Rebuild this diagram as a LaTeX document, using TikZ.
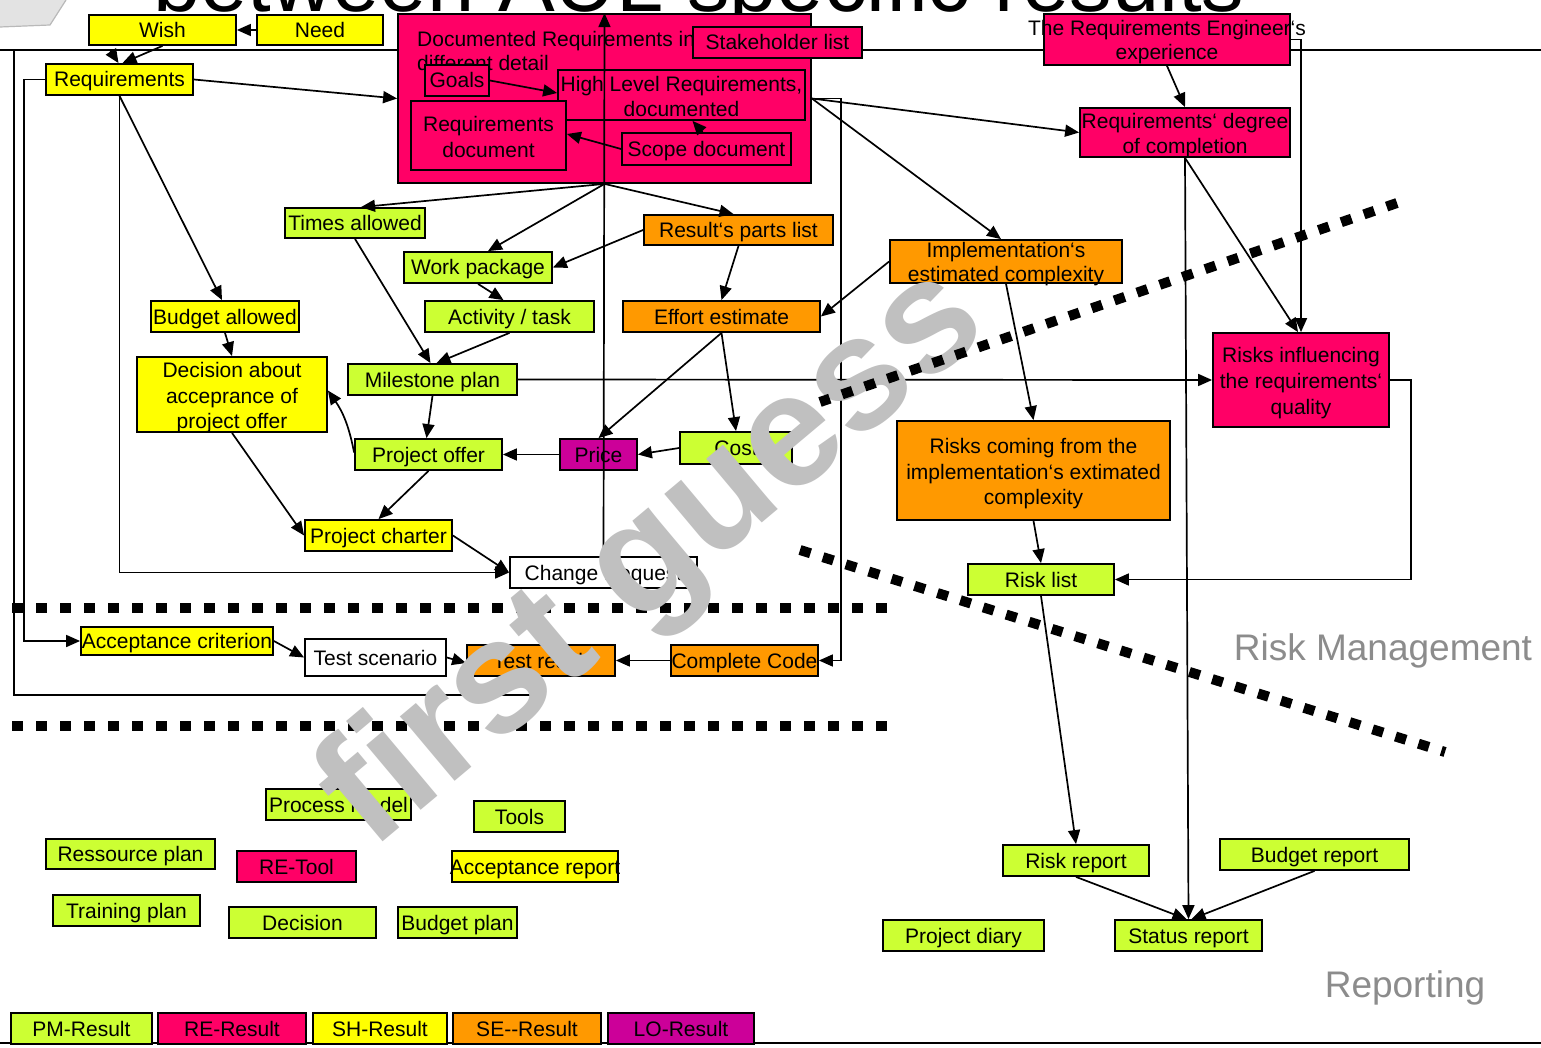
\documentclass[tikz,border=0pt]{standalone}
\usepackage{fontspec}
\setmainfont{Liberation Sans}
\usetikzlibrary{arrows.meta}
\definecolor{yel}{HTML}{FFFF00}
\definecolor{pnk}{HTML}{FF0066}
\definecolor{grn}{HTML}{CCFF33}
\definecolor{org}{HTML}{FF9900}
\definecolor{mag}{HTML}{CC0099}
\definecolor{wmc}{HTML}{C0C0C0}
\definecolor{lblgray}{HTML}{8C8C8C}
\newcommand\labfont{\fontsize{21}{25.5}\selectfont}
\begin{document}
\begin{tikzpicture}[x=1pt,y=-1pt,
  box/.style={draw=black, line width=1.8pt, inner sep=0pt, align=center, font=\labfont, text height=15.3pt, text depth=0.3pt},
  arr/.style={-{Triangle[length=14pt,width=12pt]}, line width=1.7pt},
  dots/.style={line width=10pt, dash pattern=on 11pt off 13pt},
  plain/.style={line width=1.6pt}]
\useasboundingbox (0,0) rectangle (1541,1048);
\clip (0,0) rectangle (1541,1048);
\fill[white] (0,0) rectangle (1541,1048);

% decoration top-left and title
\fill[gray!22] (0,0) -- (66,0) -- (50,25) -- (0,27) -- cycle;
\draw[gray!55, line width=1.2pt] (0,27) -- (50,25) -- (66,0);
\node[anchor=base west, inner sep=0pt, font=\fontsize{85}{85}\selectfont] (title) at (153,12) {between AUL specific results};

% rule lines
\draw[plain] (0,50) -- (1541,50);
\draw[line width=1.8pt] (0,1043) -- (1541,1043);

% boxes
\node[box,fill=yel,minimum width=147pt,minimum height=30pt] (wish) at (162.5,30) {Wish};
\node[box,fill=yel,minimum width=126pt,minimum height=30pt] (need) at (320,30) {Need};
\node[box,fill=yel,minimum width=147pt,minimum height=31pt] (req) at (119.5,79.5) {Requirements};
\node[box,fill=pnk,minimum width=413pt,minimum height=169pt] (docbox) at (604.5,98.5) {};
\node[anchor=base west, align=left, inner sep=0pt, font=\fontsize{21}{24}\selectfont] (doctext) at (417,70.5) {Documented Requirements in\\different detail};
\node[box,fill=pnk,minimum width=169pt,minimum height=31pt] (stake) at (777.5,42.5) {Stakeholder list};
\node[box,fill=pnk,minimum width=64pt,minimum height=31pt] (goals) at (457,80.5) {Goals};
\node[box,fill=pnk,minimum width=247pt,minimum height=50pt,font=\fontsize{21}{25}\selectfont,text height=43.3pt] (hlr) at (681.5,95) {High Level Requirements,\\documented};
\node[box,fill=pnk,minimum width=155pt,minimum height=69pt,font=\fontsize{21}{26}\selectfont,text height=44.3pt] (reqdoc) at (488.5,135.5) {Requirements\\document};
\node[box,fill=pnk,minimum width=169pt,minimum height=32pt] (scope) at (706.5,149) {Scope document};
\node[box,fill=pnk,minimum width=246pt,minimum height=51pt] (reeng) at (1167,39.5) {};
\node[align=center, inner sep=0pt, text height=39.3pt, text depth=0.3pt, font=\fontsize{21}{24}\selectfont] (reengtext) at (1167,40) {The Requirements Engineer‘s\\experience};
\node[box,fill=pnk,minimum width=210pt,minimum height=49pt,font=\fontsize{21}{25}\selectfont,text height=42.3pt] (degree) at (1185,132.5) {Requirements‘ degree\\of completion};
\node[box,fill=grn,minimum width=140pt,minimum height=30pt] (times) at (355,223) {Times allowed};
\node[box,fill=grn,minimum width=148pt,minimum height=31pt] (wp) at (478,267.5) {Work package};
\node[box,fill=org,minimum width=189pt,minimum height=30pt] (rpl) at (738.5,230) {Result‘s parts list};
\node[box,fill=org,minimum width=232pt,minimum height=43pt,font=\fontsize{21}{24}\selectfont,text height=40.3pt] (impl) at (1006,261.5) {Implementation‘s\\estimated complexity};
\node[box,fill=yel,minimum width=148pt,minimum height=31pt] (budget) at (225,316.5) {Budget allowed};
\node[box,fill=grn,minimum width=169pt,minimum height=31pt] (act) at (509.5,316.5) {Activity / task};
\node[box,fill=org,minimum width=197pt,minimum height=31pt] (effort) at (721.5,316.5) {Effort estimate};
\node[box,fill=yel,minimum width=190pt,minimum height=75pt,text height=68.3pt] (decision) at (232,394.5) {Decision about\\acceprance of\\project offer};
\node[box,fill=grn,minimum width=169pt,minimum height=31pt] (mile) at (432.5,379.5) {Milestone plan};
\node[box,fill=pnk,minimum width=176pt,minimum height=94pt,font=\fontsize{21}{26}\selectfont,text height=69.3pt] (riskinf) at (1301,380) {Risks influencing\\the requirements‘\\quality};
\node[box,fill=grn,minimum width=147pt,minimum height=31pt] (offer) at (428.5,454.5) {Project offer};
\node[box,fill=mag,minimum width=77pt,minimum height=31pt] (price) at (598.5,454.5) {Price};
\node[box,fill=grn,minimum width=112pt,minimum height=32pt] (cost) at (736,448) {Cost};
\node[box,fill=org,minimum width=273pt,minimum height=99pt,text height=68.3pt] (riskcome) at (1033.5,470.5) {Risks coming from the\\implementation‘s extimated\\complexity};
\node[box,fill=yel,minimum width=147pt,minimum height=31pt] (charter) at (378.5,535.5) {Project charter};
\node[box,fill=white,minimum width=187pt,minimum height=31pt] (change) at (603.5,572.5) {Change Request};
\node[box,fill=grn,minimum width=146pt,minimum height=31pt] (risklist) at (1041,579.5) {Risk list};
\node[box,fill=yel,minimum width=192pt,minimum height=28pt] (acccrit) at (177,641) {\makebox[0pt]{Acceptance criterion}};
\node[box,fill=white,minimum width=141pt,minimum height=37pt] (testscen) at (375.5,657.5) {Test scenario};
\node[box,fill=org,minimum width=148pt,minimum height=31pt] (testres) at (541,660.5) {Test result};
\node[box,fill=org,minimum width=147pt,minimum height=31pt] (code) at (744.5,660.5) {Complete Code};
\node[box,fill=grn,minimum width=145pt,minimum height=31pt] (process) at (338.5,804.5) {Process model};
\node[box,fill=grn,minimum width=91pt,minimum height=31pt] (tools) at (519.5,816.5) {Tools};
\node[box,fill=grn,minimum width=169pt,minimum height=30pt] (ress) at (130.5,854) {Ressource plan};
\node[box,fill=pnk,minimum width=119pt,minimum height=31pt] (retool) at (296.5,866.5) {RE-Tool};
\node[box,fill=yel,minimum width=166pt,minimum height=31pt] (accrep) at (535,866.5) {\makebox[0pt]{Acceptance report}};
\node[box,fill=grn,minimum width=147pt,minimum height=31pt] (training) at (126.5,910.5) {Training plan};
\node[box,fill=grn,minimum width=147pt,minimum height=31pt] (decis2) at (302.5,922.5) {Decision};
\node[box,fill=grn,minimum width=119pt,minimum height=31pt] (bplan) at (457.5,922.5) {Budget plan};
\node[box,fill=grn,minimum width=146pt,minimum height=31pt] (riskrep) at (1076,860.5) {Risk report};
\node[box,fill=grn,minimum width=189pt,minimum height=31pt] (brep) at (1314.5,854.5) {Budget report};
\node[box,fill=grn,minimum width=161pt,minimum height=31pt] (diary) at (963.5,935.5) {Project diary};
\node[box,fill=grn,minimum width=147pt,minimum height=31pt] (status) at (1188.5,935.5) {Status report};
% legend
\node[box,fill=grn,minimum width=141pt,minimum height=31pt] (pmr) at (81.5,1028.5) {PM-Result};
\node[box,fill=pnk,minimum width=148pt,minimum height=31pt] (rer) at (232,1028.5) {RE-Result};
\node[box,fill=yel,minimum width=134pt,minimum height=31pt] (shr) at (380,1028.5) {SH-Result};
\node[box,fill=org,minimum width=148pt,minimum height=31pt] (ser) at (527,1028.5) {SE-{}-Result};
\node[box,fill=mag,minimum width=146pt,minimum height=31pt] (lor) at (681,1028.5) {LO-Result};

% connectors
\coordinate (fbL) at (14,695);
\coordinate (fbT) at (14,50);
\coordinate (fbC) at (110,50);
\draw[arr] (need.west) -- (wish.east);
\draw[arr] (wish.south) -- ([xshift=3]req.north);
\draw[arr] ([xshift=-11]testres.south) |- (fbL) -- (fbT) -- (fbC) -- ([xshift=-1]req.north);
\draw[arr] (req.west) -- ++(-21,0) |- (acccrit.west);
\draw[arr] (req.east) -- (docbox.west);
\draw[arr] (req.south) -- ([xshift=-3]budget.north);
\draw[arr] (req.south) |- (change.west);
\draw[arr] (goals.east) -- ([yshift=2]hlr.west);
\draw[arr] (scope.west) -- ([yshift=1.5]reqdoc.east);
\draw[arr] ([xshift=-4]scope.north) -- ([xshift=11]hlr.south);
\draw[arr] (change.north) -- (docbox.north);
\draw[arr] (docbox.south) -- ([xshift=6]times.north);
\draw[arr] (docbox.south) -- ([xshift=10]wp.north);
\draw[arr] (docbox.south) -- ([xshift=-5]rpl.north);
\draw[arr] (rpl.west) -- (wp.east);
\draw[arr] (rpl.south) -- (effort.north);
\draw[arr] (wp.south) -- ([xshift=-6]act.north);
\draw[arr] (act.south) -- ([xshift=4]mile.north);
\draw[arr] (times.south) -- ([xshift=-2]mile.north);
\draw[arr] (budget.south) -- (decision.north);
\draw[arr] (mile.south) -- ([xshift=-2]offer.north);
\draw[arr] ([yshift=2]offer.west) to[bend right=12] ([yshift=4]decision.east);
\draw[arr] (decision.south) -- (charter.west);
\draw[arr] (offer.south) -- (charter.north);
\draw[arr] (charter.east) -- (change.west);
\draw[arr] (price.west) -- (offer.east);
\draw[arr] (cost.west) -- (price.east);
\draw[arr] (effort.south) -- (price.north);
\draw[arr] (effort.south) -- (cost.north);
\draw[arr] (impl.west) -- (effort.east);
\draw[arr] (docbox.east) -- (degree.west);
\draw[arr] (docbox.east) -- ([xshift=-5]impl.north);
\draw[arr] (docbox.east) -- ++(29,0) |- (code.east);
\draw[arr] (code.west) -- (testres.east);
\draw[arr] (testscen.east) -- ([yshift=-2.5]testres.west);
\draw[arr] (acccrit.east) -- (testscen.west);
\draw[arr] (mile.east) -- (riskinf.west);
\draw[arr] (reeng.south) -- (degree.north);
\draw[arr] (reeng.east) -| (riskinf.north);
\draw[arr] (degree.south) -- ([xshift=-3]riskinf.north);
\draw[arr] (riskinf.east) -- ++(21,0) |- (risklist.east);
\draw[arr] (impl.south) -- (riskcome.north);
\draw[arr] (riskcome.south) -- (risklist.north);
\draw[arr] (risklist.south) -- (riskrep.north);
\draw[arr] (riskrep.south) -- ([xshift=-2]status.north);
\draw[arr] (brep.south) -- ([xshift=3]status.north);
\draw[arr] (degree.south) -- (status.north);

% horizontal dotted separators
\draw[dots] (12,608) -- (890,608);
\draw[dots] (12,726) -- (890,726);

% watermark
\node[rotate=40, inner sep=0pt, text=wmc, font=\bfseries\fontsize{160}{160}\selectfont] (wm) at (655,560) {first guess};

% diagonal dotted separators
\draw[dots] (1397,203) -- (820,402);
\draw[dots] (800,550) -- (1445,752);

% area labels
\node[text=lblgray, inner sep=0pt, font=\fontsize{37}{37}\selectfont] (riskmgmt) at (1383,651) {Risk Management};
\node[text=lblgray, inner sep=0pt, font=\fontsize{37}{37}\selectfont] (reporting) at (1405,988) {Reporting};
\end{tikzpicture}
\end{document}
